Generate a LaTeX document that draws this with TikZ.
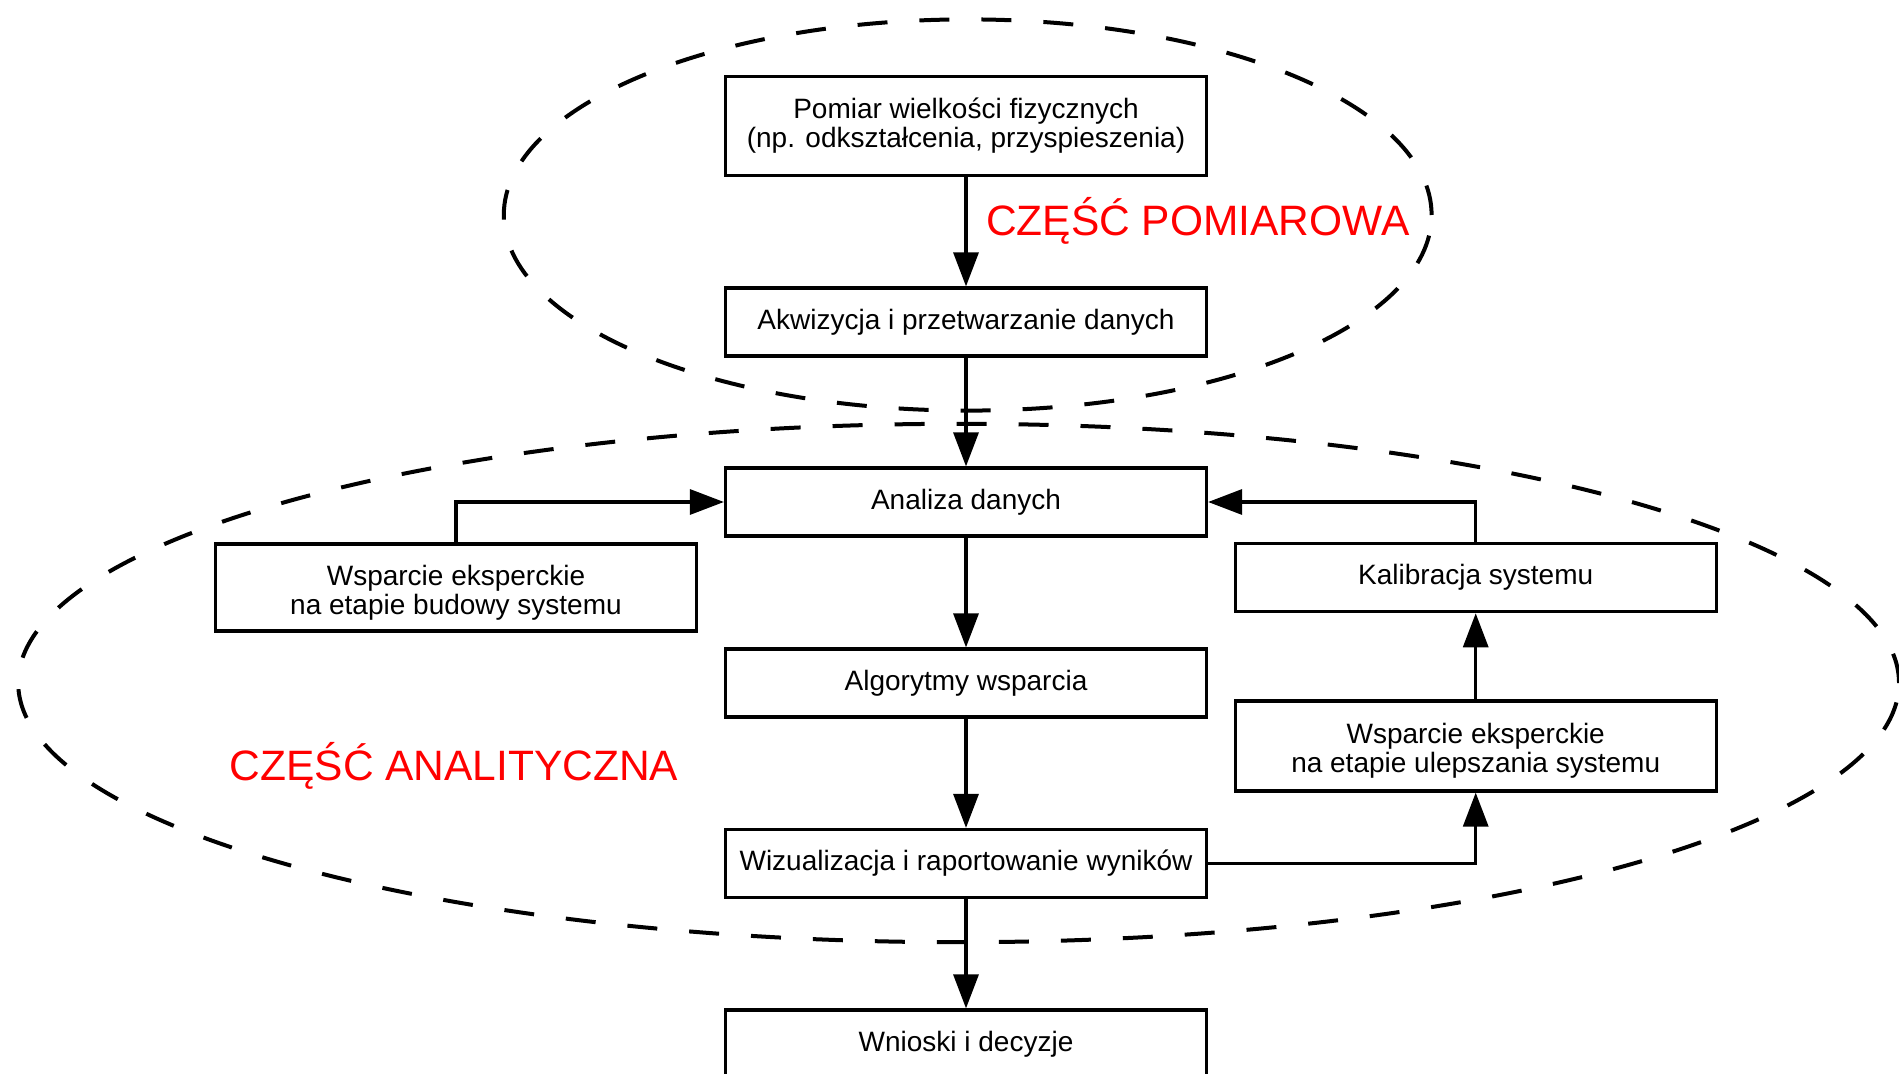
\documentclass[tikz,border=0pt]{standalone}
\usepackage{fontspec}
\setmainfont{Liberation Sans}
\usetikzlibrary{arrows.meta}
\begin{document}
\begin{tikzpicture}[x=0.5pt,y=-0.5pt,
  box/.style={draw, line width=1.6pt, fill=white, minimum width=240.5pt, minimum height=34pt, align=center, inner sep=0pt, font=\fontsize{14}{14.5}\selectfont},
  arr/.style={line width=1.6pt, -{Triangle[length=17pt,width=12.5pt]}},
  zone/.style={line width=2pt, dash pattern=on 15pt off 16pt},
  lbl/.style={text=red, inner sep=0pt, font=\fontsize{21.25}{24}\selectfont}]
\useasboundingbox (0,0) rectangle (1899,1074);
\clip (0,0) rectangle (1899,1074);
\fill[white] (0,0) rectangle (1899,1074);
% zones
\draw[zone] (967.7,215) ellipse [x radius=231.95pt, y radius=97.8pt];
\draw[zone] (958.6,683) ellipse [x radius=470.2pt, y radius=129.6pt];
% boxes
\node[box, minimum height=49.5pt] (pom) at (966,126) {Pomiar wielkości fizycznych\\(np. odkształcenia, przyspieszenia)};
\node[box] (akw) at (966,322) {Akwizycja i przetwarzanie danych};
\node[box] (ana) at (966,502) {Analiza danych};
\node[box] (alg) at (966,683) {Algorytmy wsparcia};
\node[box] (wiz) at (966,863.5) {Wizualizacja i raportowanie wyników};
\node[box] (wni) at (966,1044) {Wnioski i decyzje};
\node[box, minimum height=43.5pt] (bud) at (456,587.4) {\rule{0pt}{15.3pt}Wsparcie eksperckie\\na etapie budowy systemu};
\node[box] (kal) at (1475.7,577.7) {Kalibracja systemu};
\node[box, minimum height=45pt] (ulep) at (1475.7,746) {\rule{0pt}{15.3pt}Wsparcie eksperckie\\na etapie ulepszania systemu};
% labels
\node[lbl] (lpom) at (1197.8,220.4) {CZĘŚĆ POMIAROWA};
\node[lbl] (lana) at (454,765.4) {CZĘŚĆ ANALITYCZNA};
% connectors
\draw[arr] (pom.south) -- (akw.north);
\draw[arr] (akw.south) -- (ana.north);
\draw[arr] (ana.south) -- (alg.north);
\draw[arr] (alg.south) -- (wiz.north);
\draw[arr] (wiz.south) -- (wni.north);
\draw[arr] (bud.north) |- (ana.west);
\draw[arr] (kal.north) |- (ana.east);
\draw[arr] (ulep.north) -- (kal.south);
\draw[arr] (wiz.east) -| (ulep.south);
\end{tikzpicture}
\end{document}
